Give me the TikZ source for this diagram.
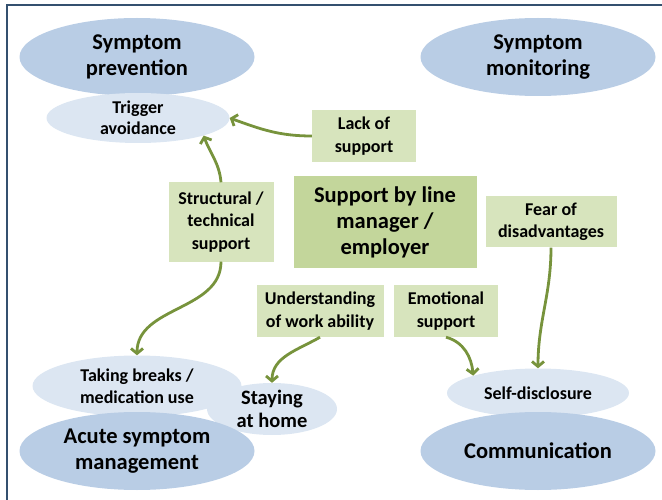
\documentclass[tikz,border=0pt]{standalone}
\usepackage{fontspec}
\setmainfont{Carlito}
\usetikzlibrary{shapes.geometric,arrows.meta}

\definecolor{ovalblue}{HTML}{B9CDE5}
\definecolor{ovallight}{HTML}{DCE6F2}
\definecolor{boxgreen}{HTML}{D7E4BD}
\definecolor{centregreen}{HTML}{C3D69B}
\definecolor{arrowgreen}{HTML}{77933C}
\definecolor{framenavy}{HTML}{34506F}

\tikzstyle{areaoval} = [ellipse, fill=ovalblue, inner sep=-5pt, minimum width=235pt, minimum height=78pt, align=center, font=\fontsize{22.5}{26}\selectfont\bfseries]
\tikzstyle{strategy} = [ellipse, fill=ovallight, inner sep=-5pt, align=center, font=\fontsize{18}{21.5}\selectfont\bfseries]
\tikzstyle{factor} = [rectangle, fill=boxgreen, minimum width=104pt, minimum height=52pt, align=center, font=\fontsize{18}{22.5}\selectfont\bfseries]
\tikzstyle{support} = [rectangle, fill=centregreen, minimum width=183pt, minimum height=91pt, align=center, font=\fontsize{22.5}{26}\selectfont\bfseries]
\tikzstyle{arrow} = [line width=2.8pt, draw=arrowgreen, -{Straight Barb[length=5pt,width=12pt]}]

\begin{document}
\begin{tikzpicture}[x=1pt, y=1pt]
	\useasboundingbox (0,0) rectangle (662,-500);
	\draw [line width=2pt, framenavy] (662,-5) -- (7,-5) -- (7,-500);

	\node (prev) [areaoval] at (137,-57) {Symptom\\prevention};
	\node (trig) [strategy, minimum width=183pt, minimum height=50pt] at (138,-118) {Trigger\\avoidance};
	\node (mon) [areaoval] at (538,-57) {Symptom\\monitoring};

	\node (lack) [factor] at (364,-136) {Lack of\\support};
	\node (line) [support] at (385,-222) {Support by line\\manager /\\employer};
	\node (struct) [factor, minimum width=105pt, minimum height=79pt] at (221,-222) {Structural /\\technical\\support};
	\node (fear) [factor, minimum width=131pt, minimum height=51pt] at (551,-222) {Fear of\\disadvantages};
	\node (under) [factor, minimum width=127pt] at (320,-311) {Understanding\\of work ability};
	\node (emo) [factor] at (446,-311) {Emotional\\support};

	\node (stay) [strategy, minimum width=130pt, minimum height=52pt, font=\fontsize{20.5}{22.5}\selectfont\bfseries] at (272,-409) {Staying\\at home};
	\node (breaks) [strategy, minimum width=209pt, minimum height=61pt] at (137,-386) {Taking breaks /\\medication use};
	\node (acute) [areaoval] at (137,-451) {Acute symptom\\management};
	\node (self) [strategy, minimum width=182pt, minimum height=49pt] at (538,-393) {Self-disclosure};
	\node (comm) [areaoval] at (538,-451) {Communication};

	\draw [arrow] (lack.west) to[out=180,in=-20] (trig.east);
	\draw [arrow] (struct.north) to[out=95,in=-70] (trig.-15);
	\draw [arrow] (struct.south) to[out=-90,in=90] (breaks.north);
	\draw [arrow] (under.south) to[out=-150,in=90] (stay.north);
	\draw [arrow] (emo.south) to[out=-15,in=95] (self.165);
	\draw [arrow] (fear.south) to[out=-90,in=90] (self.north);
\end{tikzpicture}
\end{document}
